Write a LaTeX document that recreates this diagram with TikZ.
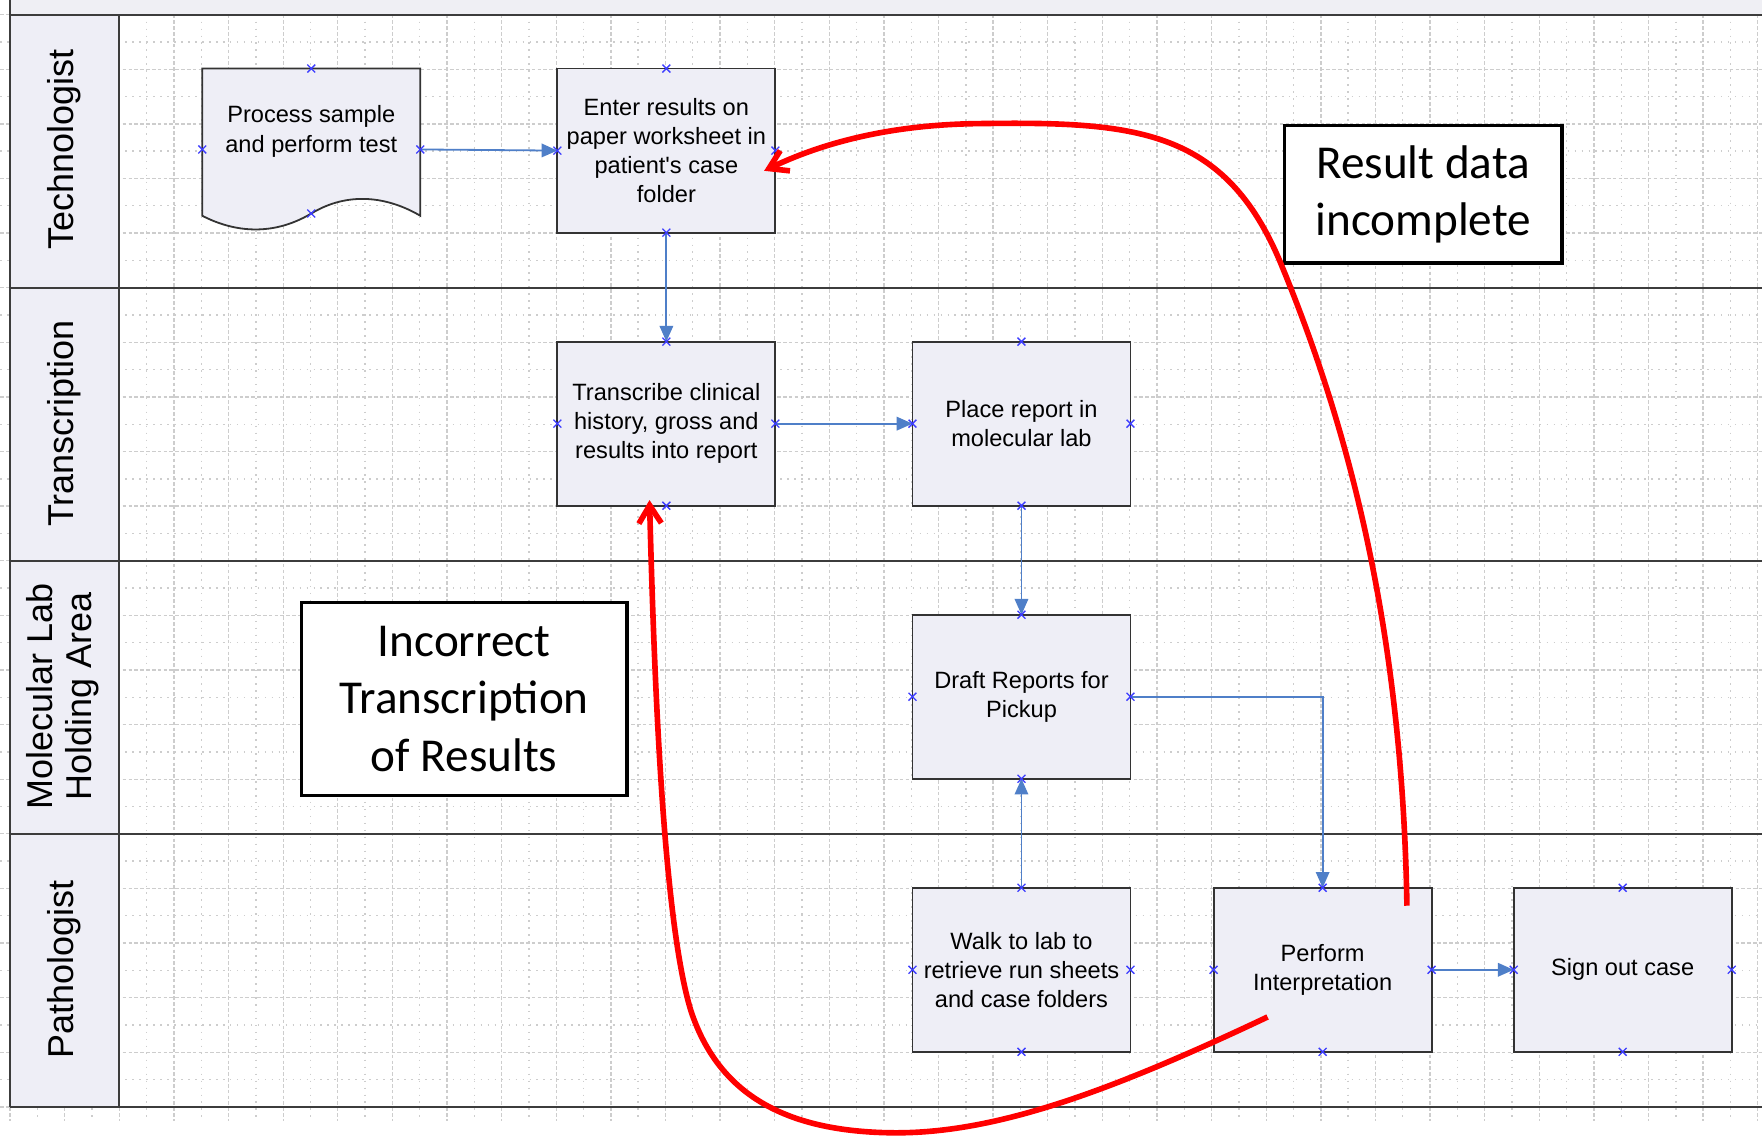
\documentclass[tikz,border=0pt]{standalone}
\usepackage{fontspec}
\setmainfont{Liberation Sans}
\newfontfamily\calfont{Carlito}
\usetikzlibrary{arrows.meta}
\definecolor{boxfill}{RGB}{238,238,246}
\definecolor{hdrfill}{RGB}{238,238,246}
\definecolor{bandfill}{RGB}{239,239,244}
\definecolor{gridgray}{RGB}{205,205,205}
\definecolor{connblue}{RGB}{79,127,200}
\definecolor{mkblue}{RGB}{60,60,255}
\definecolor{laneline}{RGB}{60,60,60}
\begin{document}
\begin{tikzpicture}[x=0.5pt,y=-0.5pt,
  gmajor/.style={draw=gridgray, line width=0.6pt, dash pattern=on 1.6pt off 1.0pt},
  gminor/.style={draw=gridgray, line width=0.6pt, dash pattern=on 0.7pt off 2.4pt},
  laneln/.style={draw=laneline, line width=0.9pt},
  flowbox/.style={draw=black!80, fill=boxfill, line width=0.8pt, minimum width=97pt, minimum height=73pt, inner sep=0pt, outer sep=0pt, align=center, font=\fontsize{10.5}{13}\selectfont},
  hdr/.style={rotate=90, align=center, inner sep=0pt, font=\fontsize{16}{17.5}\selectfont},
  conn/.style={draw=connblue, line width=0.8pt, -{Triangle[length=7pt,width=6pt]}},
  mk/.style={draw=mkblue, line width=0.6pt},
  callout/.style={draw=black, fill=white, line width=1.4pt, align=center, inner sep=0pt, font=\calfont\fontsize{21}{25.5}\selectfont},
  redarrow/.style={draw=red, line width=2.5pt, -{Straight Barb[length=8pt,width=10pt]}},
]
\useasboundingbox (0,0) rectangle (1568,1012);
\fill[white] (0,0) rectangle (1568,1012);

% grid
\foreach \k in {0,...,64}{
  \pgfmathsetmacro\gx{9+\k*24.3}
  \ifodd\k \draw[gminor] (\gx,13) -- (\gx,998); \else \draw[gmajor] (\gx,13) -- (\gx,998); \fi
}
\foreach \k in {0,...,40}{
  \pgfmathsetmacro\gy{13+\k*24.3}
  \ifodd\k \draw[gminor] (0,\gy) -- (1568,\gy); \else \draw[gmajor] (0,\gy) -- (1568,\gy); \fi
}

% pool
\fill[bandfill] (9,0) rectangle (1568,13);
\fill[hdrfill] (9,13) rectangle (106,985);
\foreach \yy in {13,256,499,742,985} \draw[laneln] (9,\yy) -- (1568,\yy);
\draw[laneln] (9,0) -- (9,985);
\draw[laneln] (106,13) -- (106,985);

% lane headers
\node[hdr] (hTech) at (57,133) {Technologist};
\node[hdr] (hTrans) at (57,377) {Transcription};
\node[hdr] (hMol) at (56,620) {Molecular Lab\\Holding Area};
\node[hdr] (hPath) at (57,863) {Pathologist};

% document shape
\draw[draw=black!80, fill=boxfill, line width=0.8pt]
  (180,61) -- (374,61) -- (374,192)
  .. controls (345,175) and (310,170) .. (277,190)
  .. controls (240,212) and (205,205) .. (180,192) -- cycle;
\node[align=center, inner sep=0pt, font=\fontsize{10.5}{13}\selectfont] (proc) at (277,117) {Process sample\\and perform test};
\coordinate (procN) at (277,61);
\coordinate (procW) at (180,133);
\coordinate (procE) at (374,133);
\coordinate (procS) at (277,190);

% process boxes
\node[flowbox] (enter) at (593,134) {Enter results on\\paper worksheet in\\patient\textquotesingle s case\\folder};
\node[flowbox] (trans) at (593,377) {Transcribe clinical\\history, gross and\\results into report};
\node[flowbox] (place) at (909,377) {Place report in\\molecular lab};
\node[flowbox] (draft) at (909,620) {Draft Reports for\\Pickup};
\node[flowbox] (walk) at (909,863) {Walk to lab to\\retrieve run sheets\\and case folders};
\node[flowbox] (interp) at (1177,863) {Perform\\Interpretation};
\node[flowbox] (sign) at (1444,863) {Sign out case};

% connectors
\draw[conn] (procE) -- (enter.west);
\draw[conn] (enter.south) -- (trans.north);
\draw[conn] (trans.east) -- (place.west);
\draw[conn] (place.south) -- (draft.north);
\draw[conn] (walk.north) -- (draft.south);
\draw[conn] (draft.east) -| (interp.north);
\draw[conn] (interp.east) -- (sign.west);

% connection markers
\foreach \p in {procN,procW,procE,procS}
  \draw[mk] (\p) ++(-3.5,-3.5) -- ++(7,7) ++(0,-7) -- ++(-7,7);
\foreach \n in {enter,trans,place,draft,walk,interp,sign}
  \foreach \a in {north,south,east,west}
    \draw[mk] (\n.\a) ++(-3.5,-3.5) -- ++(7,7) ++(0,-7) -- ++(-7,7);

% callouts
\node[callout, minimum width=123.5pt, minimum height=61pt] (incomplete) at (1266.5,173) {Result data\\incomplete};
\node[callout, minimum width=145pt, minimum height=86pt] (incorrect) at (413,622) {Incorrect\\Transcription\\of Results};

% red annotation curves
\coordinate (r1s) at (1252,806);
\coordinate (r1e) at (680,152);
\draw[redarrow] (r1s) .. controls (1248,560) and (1200,380) .. (1140,235)
  .. controls (1090,114) and (1010,108) .. (870,110)
  .. controls (790,111) and (730,128) .. (r1e);
\coordinate (r2s) at (1128,905);
\coordinate (r2e) at (578,445);
\draw[redarrow] (r2s) .. controls (980,975) and (880,1010) .. (790,1008)
  .. controls (700,1006) and (640,975) .. (615,900)
  .. controls (590,820) and (582,600) .. (r2e);
\end{tikzpicture}
\end{document}
